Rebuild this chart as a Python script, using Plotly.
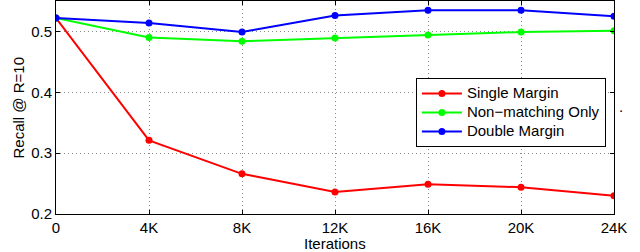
import plotly.graph_objects as go

iterations = [0, 4000, 8000, 12000, 16000, 20000, 24000]
tick_labels = ["0", "4K", "8K", "12K", "16K", "20K", "24K"]
single_margin = [0.522, 0.321, 0.266, 0.236, 0.249, 0.244, 0.230]
non_matching = [0.522, 0.490, 0.484, 0.489, 0.494, 0.499, 0.501]
double_margin = [0.522, 0.514, 0.499, 0.526, 0.535, 0.535, 0.525]

series = [
    ("Single Margin", single_margin, "#ff0000"),
    ("Non\u2212matching Only", non_matching, "#00ff00"),
    ("Double Margin", double_margin, "#0000ff"),
]

fig = go.Figure()
for name, vals, color in series:
    fig.add_trace(go.Scatter(
        x=iterations, y=vals, mode="lines+markers",
        name="<span style='font-size:15px'>" + name + "</span>",
        line=dict(color=color, width=2),
        marker=dict(color=color, size=7),
    ))

FAM = "Liberation Sans, Arial, sans-serif"
font = dict(family=FAM, size=15, color="black")
fig.update_layout(
    width=640, height=252,
    margin=dict(l=56, r=26, t=1, b=38),
    plot_bgcolor="white", paper_bgcolor="white",
    font=font,
    showlegend=True,
    legend=dict(
        x=0.645, y=0.638, xanchor="left", yanchor="top",
        bordercolor="black", borderwidth=1, bgcolor="white",
        font=dict(family=FAM, size=11.5, color="black"),
        tracegroupgap=0, itemwidth=40,
    ),
    annotations=[
        dict(text=".", x=(617 - 56) / 558, y=(214 - 107) / 213,
             xref="paper", yref="paper",
             showarrow=False, xanchor="left", yanchor="middle", font=font),
        dict(text="Iterations", x=0.5, y=0, xref="paper", yref="paper",
             yshift=-29, showarrow=False, xanchor="center", yanchor="middle",
             font=font),
        dict(text="Recall @ R=10", x=0, y=0.5, xref="paper", yref="paper",
             xshift=-38, textangle=-90, showarrow=False,
             xanchor="center", yanchor="middle", font=font),
    ],
)

GRID = dict(showgrid=True, gridcolor="#8a8a8a", griddash="1px,3px", gridwidth=1)
fig.update_xaxes(
    range=[0, 24000], tickvals=iterations, ticktext=tick_labels,
    showline=True, linecolor="black", linewidth=1, mirror="ticks",
    ticks="inside", ticklen=4, tickcolor="black",
    zeroline=False, automargin=False, **GRID,
)
fig.update_yaxes(
    range=[0.2, 0.55], tickvals=[0.2, 0.3, 0.4, 0.5],
    ticktext=["0.2", "0.3", "0.4", "0.5"],
    showline=True, linecolor="black", linewidth=1, mirror="ticks",
    ticks="inside", ticklen=4, tickcolor="black",
    zeroline=False, automargin=False, **GRID,
)
fig.write_html(
    "out.html",
    config={"displayModeBar": False},
    post_script="document.body.style.margin='0';document.body.style.overflow='hidden';",
)
